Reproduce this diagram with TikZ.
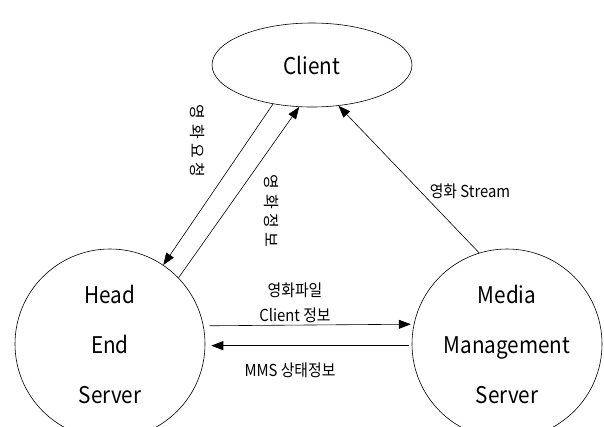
\documentclass[tikz,border=0pt]{standalone}
\usepackage{fontspec}
\setmainfont{Noto Sans CJK KR}
\usetikzlibrary{shapes.geometric,arrows.meta}
\begin{document}
\begin{tikzpicture}[x=1pt,y=-1pt,
  line width=0.6pt,
  srv/.style={draw,circle,minimum size=190pt,inner sep=0pt,align=center,
    font={\fontsize{23}{50}\selectfont\addfontfeatures{FakeStretch=0.9}}},
  cli/.style={draw,ellipse,minimum width=200pt,minimum height=84pt,inner sep=0pt,
    font={\fontsize{23}{25}\selectfont\addfontfeatures{FakeStretch=0.9}}},
  arr/.style={-{Triangle[length=12pt,width=9pt]}},
  lbl/.style={font={\fontsize{16.5}{18}\selectfont\addfontfeatures{FakeStretch=0.9}},inner sep=0pt},
  vlbl/.style={font={\fontsize{16}{17}\selectfont\addfontfeatures{LetterSpace=28}},inner sep=0pt,rotate=-90}]
\useasboundingbox (0,0) rectangle (604,426);
\clip (0,0) rectangle (604,426);
\node[cli] (client) at (312,65) {Client};
\node[srv] (head) at (110,344) {Head\\End\\Server};
\node[srv] (media) at (507,344) {Media\\Management\\Server};
\draw[arr] (client.225.7) -- (head.56);
\draw[arr] (head.44) -- (client.253);
\draw[arr] (media.107) -- (client.303);
\draw[arr,shorten <=6pt,shorten >=3pt] (head.11.5) -- (media.168.5);
\draw[arr,shorten <=3pt,shorten >=6pt] (media.181.8) -- (head.-1.8);
\node[vlbl] (l1) at (198,141) {영화요청};
\node[vlbl] (l2) at (271,211) {영화정보};
\node[lbl] (l3) at (470,191) {영화 Stream};
\node[lbl] (l4) at (295,290) {영화파일};
\node[lbl] (l5) at (295,315) {Client 정보};
\node[lbl] (l6) at (290,370) {MMS 상태정보};
\end{tikzpicture}
\end{document}
